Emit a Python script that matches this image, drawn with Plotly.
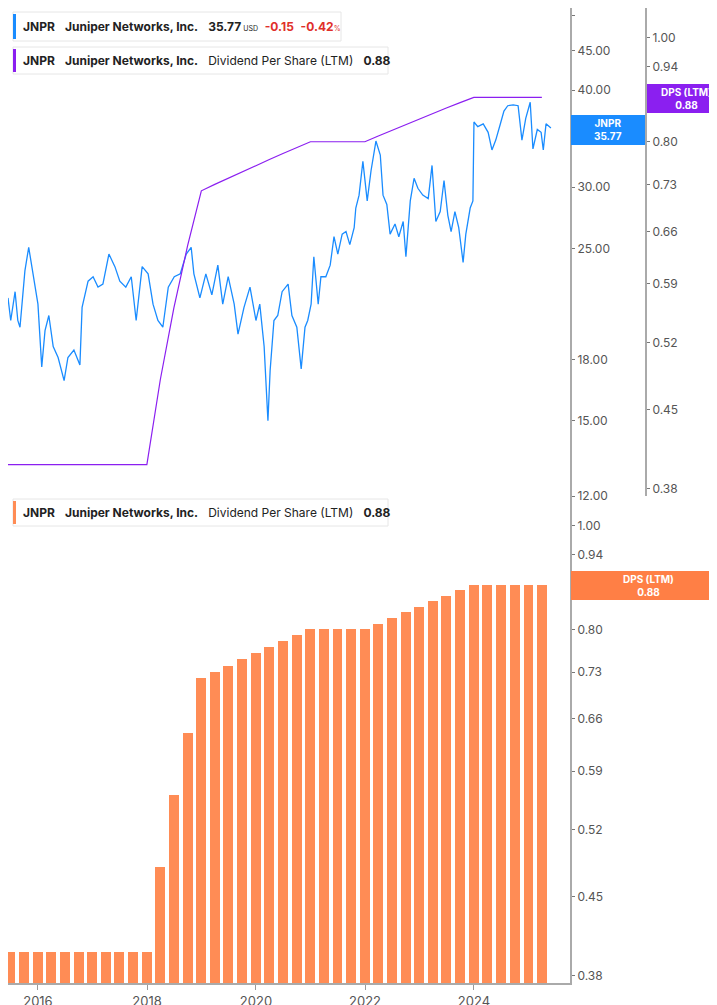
import plotly.graph_objects as go
import pandas as pd
import numpy as np

# ---- data ----
price_t = [15.45,15.50,15.58,15.63,15.67,15.76,15.83,15.91,16.00,16.07,16.13,16.20,16.28,16.37,16.48,16.55,16.66,16.77,16.81,16.92,
           17.01,17.10,17.19,17.30,17.41,17.50,17.61,17.71,17.80,17.91,18.02,18.11,18.20,18.29,18.39,18.50,18.61,18.72,18.81,18.86,
           18.97,19.08,19.19,19.30,19.39,19.49,19.60,19.67,19.78,19.89,20.00,20.07,20.15,20.22,20.26,20.33,20.40,20.48,20.59,20.66,
           20.75,20.83,20.90,20.95,21.01,21.06,21.14,21.19,21.28,21.36,21.43,21.50,21.58,21.65,21.72,21.80,21.83,21.89,21.96,22.04,
           22.11,22.20,22.28,22.33,22.40,22.46,22.55,22.62,22.70,22.75,22.83,22.90,22.97,23.06,23.16,23.23,23.30,23.38,23.45,23.52,
           23.58,23.65,23.72,23.80,23.85,23.93,23.98,24.00,24.07,24.17,24.26,24.33,24.40,24.48,24.55,24.62,24.72,24.81,24.88,24.95,
           25.03,25.08,25.16,25.23,25.27,25.32,25.41]
price_v = [21.6,20.2,22.0,20.2,19.8,23.4,25.1,23.2,21.2,17.6,19.6,20.5,18.7,18.1,16.9,18.1,18.5,17.7,21.0,22.7,
           23.0,22.3,22.5,24.6,23.7,22.7,22.3,23.0,20.2,23.7,23.2,21.2,20.2,19.8,22.3,23.0,23.2,24.6,25.1,23.2,
           21.6,23.2,21.8,23.8,21.2,23.0,21.2,19.4,21.0,22.3,20.2,21.2,18.7,15.0,17.4,20.2,20.5,22.0,22.5,20.5,
           19.8,17.5,19.8,20.2,21.2,24.4,21.2,23.0,23.0,23.8,25.9,24.6,26.1,26.3,25.3,26.6,28.2,29.3,32.4,28.8,
           31.5,34.4,33.0,29.3,28.5,26.1,26.9,25.9,27.1,24.4,28.8,30.8,29.9,29.3,29.0,32.0,27.1,27.9,30.6,27.6,
           26.3,27.9,26.6,24.0,26.1,28.2,28.8,36.4,35.9,36.2,35.3,33.5,34.5,36.1,37.6,38.2,38.3,38.2,34.5,36.8,
           38.6,33.6,35.6,35.3,33.5,36.2,35.77]
dps_dates = pd.date_range("2015-06-30", "2025-03-31", freq="QE")
dps_vals = [0.40]*11 + [0.48,0.56,0.64,0.72, 0.73,0.74,0.75,0.76,0.77,0.78,0.79] + [0.80]*5 + \
           [0.81,0.82,0.83,0.84,0.85,0.86,0.87] + [0.88]*6
price_ticks = [12,15,18,25,30,40,45,50]
dps_ticks = [0.38,0.45,0.52,0.59,0.66,0.73,0.80,0.87,0.94,1.00]

def to_dt(f):
    y = int(np.floor(f)) + 2000
    return pd.Timestamp(y, 1, 1) + pd.Timedelta(days=(f - np.floor(f)) * 365.25)

price_dates = [to_dt(f) for f in price_t]

W, H = 717, 1005
BLUE = "#1a8cff"; PURPLE = "#8b1ff0"; ORANGE = "#ff8c55"
FONT = "Inter"
xr = [to_dt(15.45), to_dt(25.76)]

fig = go.Figure()
fig.add_trace(go.Scatter(x=price_dates, y=price_v, mode="lines", line=dict(color=BLUE, width=1.3),
                         xaxis="x", yaxis="y"))
dps_line_x = [xr[0]] + list(dps_dates)
dps_line_y = [dps_vals[0]] + dps_vals
fig.add_trace(go.Scatter(x=dps_line_x, y=dps_line_y, mode="lines", line=dict(color=PURPLE, width=1.2),
                         xaxis="x", yaxis="y2"))
fig.add_trace(go.Bar(x=dps_dates, y=dps_vals, marker=dict(color=ORANGE, line=dict(width=0)),
                     width=1000*3600*24*66, xaxis="x2", yaxis="y3"))

top0 = 1 - 488/H
bot0 = 1 - 975/H
xd = [0, 562/W]
tickfont = dict(family=FONT, size=12, color="#555")
fig.update_layout(
    width=W, height=H, margin=dict(l=0, r=0, t=0, b=0, autoexpand=False), showlegend=False,
    paper_bgcolor="white", plot_bgcolor="white", bargap=0,
    xaxis=dict(domain=xd, range=xr, anchor="y", showticklabels=False, showgrid=False, zeroline=False,
               automargin=False),
    xaxis2=dict(domain=xd, range=xr, anchor="y3", matches="x", showgrid=False, zeroline=False, automargin=False,
                tickvals=[pd.Timestamp(f"{y}-01-01") for y in (2016, 2018, 2020, 2022, 2024)],
                ticktext=["2016", "2018", "2020", "2022", "2024"],
                ticks="outside", ticklen=5, tickcolor="#999", showline=True, linecolor="#aaa", linewidth=2,
                tickfont=dict(family=FONT, size=13, color="#555")),
    yaxis=dict(domain=[top0, 1], type="log", range=[np.log10(12), np.log10(51.05)], side="right",
               anchor="x", tickvals=price_ticks, ticktext=[f"{v:.2f}" for v in price_ticks], automargin=False,
               ticks="outside", ticklen=3, tickcolor="#777", showgrid=False, zeroline=False,
               showline=True, linecolor="#aaa", linewidth=2, tickfont=tickfont),
    yaxis2=dict(domain=[top0, 1], type="log", range=[np.log10(0.374), np.log10(1.066)], side="right",
                overlaying="y", anchor="free", position=638/W, tickvals=dps_ticks, automargin=False,
                ticktext=[f"{v:.2f}" for v in dps_ticks], ticks="outside", ticklen=3, tickcolor="#777",
                showgrid=False, zeroline=False, showline=True, linecolor="#aaa", linewidth=2, tickfont=tickfont),
    yaxis3=dict(domain=[bot0, top0], type="log", range=[np.log10(0.374), np.log10(1.066)], side="right",
                anchor="x2", tickvals=dps_ticks, ticktext=[f"{v:.2f}" for v in dps_ticks], automargin=False,
                ticks="outside", ticklen=3, tickcolor="#777", showgrid=False, zeroline=False,
                showline=True, linecolor="#aaa", linewidth=2, tickfont=tickfont),
)

def px(x): return x / W
def py(y): return 1 - y / H

shapes = []
anns = []
def legend_box(x0, y0, x1, y1, color, parts):
    shapes.append(dict(type="rect", xref="paper", yref="paper", x0=px(x0), x1=px(x1), y0=py(y1), y1=py(y0),
                       fillcolor="white", line=dict(color="#e6e6e6", width=1), layer="above"))
    shapes.append(dict(type="rect", xref="paper", yref="paper", x0=px(x0), x1=px(x0+3), y0=py(y1-2), y1=py(y0+2),
                       fillcolor=color, line=dict(width=0), layer="above"))
    anns.append(dict(xref="paper", yref="paper", x=px(x0+8), y=py((y0+y1)/2), xanchor="left", yanchor="middle",
                     text=parts, showarrow=False, font=dict(family=FONT, size=12, color="#222")))

legend_box(5, 4, 333, 33, BLUE,
           "<b>JNPR</b>   <b>Juniper Networks, Inc.</b>   <b>35.77</b><span style='font-size:7px'> USD</span>  "
           "<span style='color:#e0302a'><b>-0.15</b>  <b>-0.42</b><span style='font-size:7px'>%</span></span>")
legend_box(5, 39, 380, 66, PURPLE,
           "<b>JNPR</b>   <b>Juniper Networks, Inc.</b>   Dividend Per Share (LTM)   <b>0.88</b>")
legend_box(5, 491, 380, 518, ORANGE,
           "<b>JNPR</b>   <b>Juniper Networks, Inc.</b>   Dividend Per Share (LTM)   <b>0.88</b>")

def tag(x0, y0, x1, y1, color, text):
    shapes.append(dict(type="rect", xref="paper", yref="paper", x0=px(x0), x1=px(x1), y0=py(y1), y1=py(y0),
                       fillcolor=color, line=dict(width=0), layer="above"))
    anns.append(dict(xref="paper", yref="paper", x=px((x0+x1)/2), y=py((y0+y1)/2), xanchor="center",
                     yanchor="middle", text=text, showarrow=False,
                     font=dict(family=FONT, size=10, color="white")))

tag(563, 107, 637, 137, BLUE, "<b>JNPR</b><br><b>35.77</b>")
tag(639, 76, 717, 105, PURPLE, "<b>DPS (LTM)</b><br><b>0.88</b>")
tag(563, 563, 717, 592, "#ff7f45", "<b>DPS (LTM)</b><br><b>0.88</b>")

fig.update_layout(shapes=shapes, annotations=anns)
fig.write_html("out.html")
